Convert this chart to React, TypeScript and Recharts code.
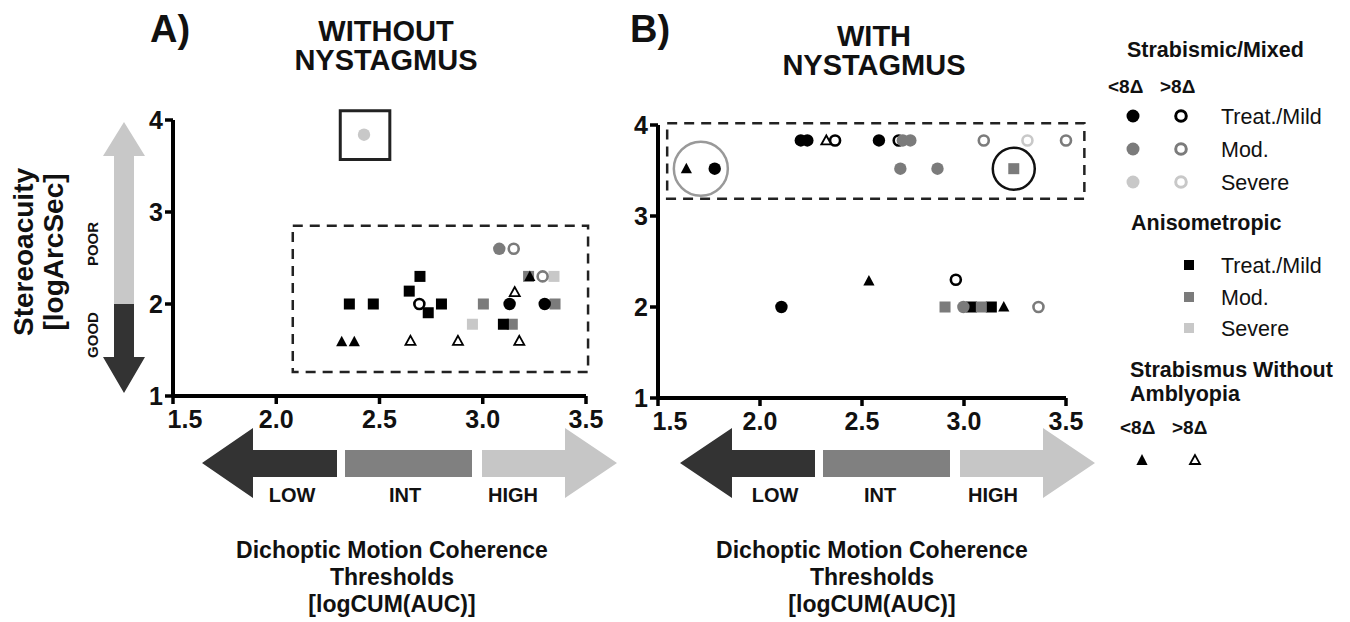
import React from 'react';
import {
  ScatterChart,
  Scatter,
  XAxis,
  YAxis,
  ReferenceArea,
  ReferenceDot,
} from 'recharts';

const FONT = '"Liberation Sans", Arial, Helvetica, sans-serif';
const BLACK = '#000000';
const MID = '#7b7b7b';
const LIGHT = '#c8c8c8';

const X_TICKS = [1.5, 2.0, 2.5, 3.0, 3.5];
const Y_TICKS = [1, 2, 3, 4];

// ---- Panel A: without nystagmus ----
const aStrabSevereLo = [{ x: 2.425, y: 3.84 }];
const aStrabMildLo = [{ x: 3.13, y: 2.0 }, { x: 3.3, y: 2.0 }];
const aStrabMildHi = [{ x: 2.693, y: 2.0 }];
const aStrabModLo = [{ x: 3.08, y: 2.6 }];
const aStrabModHi = [{ x: 3.15, y: 2.6 }, { x: 3.29, y: 2.3 }];
const aAnisoMild = [
  { x: 2.354, y: 2.0 }, { x: 2.47, y: 2.0 }, { x: 2.644, y: 2.14 }, { x: 2.696, y: 2.3 },
  { x: 2.736, y: 1.905 }, { x: 2.8, y: 2.0 }, { x: 3.1, y: 1.78 },
];
const aAnisoMod = [{ x: 3.003, y: 2.0 }, { x: 3.143, y: 1.78 }, { x: 3.222, y: 2.3 }, { x: 3.35, y: 2.0 }];
const aAnisoSevere = [{ x: 2.95, y: 1.78 }, { x: 3.345, y: 2.3 }];
const aNoAmbLo = [{ x: 2.317, y: 1.59 }, { x: 2.378, y: 1.59 }, { x: 3.228, y: 2.3 }];
const aNoAmbHi = [{ x: 2.65, y: 1.6 }, { x: 2.88, y: 1.6 }, { x: 3.155, y: 2.13 }, { x: 3.177, y: 1.6 }];

// ---- Panel B: with nystagmus ----
const bStrabMildLo = [
  { x: 2.2, y: 3.83 }, { x: 2.232, y: 3.83 }, { x: 2.583, y: 3.83 }, { x: 1.778, y: 3.52 }, { x: 2.105, y: 2.0 },
];
const bStrabMildHi = [{ x: 2.368, y: 3.83 }, { x: 2.68, y: 3.83 }, { x: 2.96, y: 2.3 }];
const bStrabModLo = [
  { x: 2.7, y: 3.83 }, { x: 2.737, y: 3.83 }, { x: 2.688, y: 3.52 }, { x: 2.87, y: 3.52 }, { x: 2.997, y: 2.0 },
];
const bStrabModHi = [{ x: 3.097, y: 3.83 }, { x: 3.5, y: 3.83 }, { x: 3.365, y: 2.0 }];
const bStrabSevereHi = [{ x: 3.311, y: 3.83 }];
const bAnisoMild = [{ x: 3.036, y: 2.0 }, { x: 3.134, y: 2.0 }];
const bAnisoMod = [{ x: 3.244, y: 3.52 }, { x: 2.907, y: 2.0 }, { x: 3.085, y: 2.0 }];
const bNoAmbLo = [{ x: 1.639, y: 3.52 }, { x: 2.534, y: 2.285 }, { x: 3.195, y: 2.0 }];
const bNoAmbHi = [{ x: 2.325, y: 3.83 }];

type Kind = 'dot' | 'ring' | 'square' | 'tri' | 'triOpen';
type Pt = { x: number; y: number };
type Series = { name: string; data: Pt[]; kind: Kind; color: string };

const seriesA: Series[] = [
  { name: 'aAnisoSevere', data: aAnisoSevere, kind: 'square', color: LIGHT },
  { name: 'aAnisoMod', data: aAnisoMod, kind: 'square', color: MID },
  { name: 'aAnisoMild', data: aAnisoMild, kind: 'square', color: BLACK },
  { name: 'aStrabSevereLo', data: aStrabSevereLo, kind: 'dot', color: LIGHT },
  { name: 'aStrabModLo', data: aStrabModLo, kind: 'dot', color: MID },
  { name: 'aStrabModHi', data: aStrabModHi, kind: 'ring', color: MID },
  { name: 'aStrabMildLo', data: aStrabMildLo, kind: 'dot', color: BLACK },
  { name: 'aStrabMildHi', data: aStrabMildHi, kind: 'ring', color: BLACK },
  { name: 'aNoAmbLo', data: aNoAmbLo, kind: 'tri', color: BLACK },
  { name: 'aNoAmbHi', data: aNoAmbHi, kind: 'triOpen', color: BLACK },
];

const seriesB: Series[] = [
  { name: 'bAnisoMild', data: bAnisoMild, kind: 'square', color: BLACK },
  { name: 'bAnisoMod', data: bAnisoMod, kind: 'square', color: MID },
  { name: 'bStrabMildHi', data: bStrabMildHi, kind: 'ring', color: BLACK },
  { name: 'bStrabMildLo', data: bStrabMildLo, kind: 'dot', color: BLACK },
  { name: 'bStrabModLo', data: bStrabModLo, kind: 'dot', color: MID },
  { name: 'bStrabModHi', data: bStrabModHi, kind: 'ring', color: MID },
  { name: 'bStrabSevereHi', data: bStrabSevereHi, kind: 'ring', color: LIGHT },
  { name: 'bNoAmbLo', data: bNoAmbLo, kind: 'tri', color: BLACK },
  { name: 'bNoAmbHi', data: bNoAmbHi, kind: 'triOpen', color: BLACK },
];

const Marker = ({ kind, color, cx, cy }: { kind: Kind; color: string; cx: number; cy: number }) => {
  if (cx == null || cy == null) return null;
  switch (kind) {
    case 'dot':
      return <circle cx={cx} cy={cy} r={6.2} fill={color} />;
    case 'ring':
      return <circle cx={cx} cy={cy} r={5} fill="#fff" stroke={color} strokeWidth={2.6} />;
    case 'square':
      return <rect x={cx - 5.5} y={cy - 5.5} width={11} height={11} fill={color} />;
    case 'tri':
      return <polygon points={`${cx},${cy - 6} ${cx - 5.6},${cy + 4.5} ${cx + 5.6},${cy + 4.5}`} fill={color} />;
    case 'triOpen':
      return (
        <polygon
          points={`${cx},${cy - 5} ${cx - 5},${cy + 4} ${cx + 5},${cy + 4}`}
          fill="#fff"
          stroke={color}
          strokeWidth={1.8}
        />
      );
    default:
      return null;
  }
};

const TICK_FONT = 25;

// x tick: the first label (1.5) sits a bit right of its tick, clear of the y "1"
const XTick = (props: any) => {
  const { x, y, payload } = props;
  const shift = payload.value === 1.5 ? 12 : 0;
  return (
    <text x={x + shift} y={y + 4} dy="0.71em" textAnchor="middle" fontSize={TICK_FONT} fontWeight={700} fill="#111" fontFamily={FONT}>
      {Number(payload.value).toFixed(1)}
    </text>
  );
};

const YTick = (props: any) => {
  const { x, y, payload } = props;
  return (
    <text x={x} y={y} dy="0.36em" textAnchor="end" fontSize={TICK_FONT} fontWeight={700} fill="#111" fontFamily={FONT}>
      {payload.value}
    </text>
  );
};

interface PanelProps {
  series: Series[];
  width: number;
  height: number;
  margin: { top: number; right: number; bottom: number; left: number };
  children?: React.ReactNode;
}

const Panel = ({ series, width, height, margin, children }: PanelProps) => (
  <ScatterChart width={width} height={height} margin={margin}>
    <XAxis
      type="number"
      dataKey="x"
      domain={[1.5, 3.5]}
      ticks={X_TICKS}
      axisLine={{ stroke: '#000', strokeWidth: 4 }}
      tickLine={{ stroke: '#000', strokeWidth: 3.5 }}
      tickSize={8}
      tick={<XTick />}
      height={40}
      interval={0}
    />
    <YAxis
      type="number"
      dataKey="y"
      domain={[1, 4]}
      ticks={Y_TICKS}
      axisLine={{ stroke: '#000', strokeWidth: 4 }}
      tickLine={{ stroke: '#000', strokeWidth: 3.5 }}
      tickSize={8}
      tickMargin={2}
      tick={<YTick />}
      width={40}
      interval={0}
    />
    {children}
    {series.map((s) => (
      <Scatter
        key={s.name}
        name={s.name}
        data={s.data}
        isAnimationActive={false}
        shape={(p: any) => <Marker kind={s.kind} color={s.color} cx={p.cx} cy={p.cy} />}
      />
    ))}
  </ScatterChart>
);

const HArrows = ({ tip, headL, shaftL, midL, midR, shaftR, headR, tipR, labels }: any) => {
  const yc = 463;
  return (
    <g>
      <polygon
        points={`${tip},${yc} ${headL},428 ${headL},450 ${shaftL},450 ${shaftL},477 ${headL},477 ${headL},498`}
        fill="#333333"
      />
      <rect x={midL} y={450} width={midR - midL} height={27} fill="#808080" />
      <polygon
        points={`${shaftR},450 ${headR},450 ${headR},428 ${tipR},${yc} ${headR},498 ${headR},477 ${shaftR},477`}
        fill="#c6c6c6"
      />
      {['LOW', 'INT', 'HIGH'].map((t, i) => (
        <text key={t} x={labels[i]} y={502} textAnchor="middle" fontSize={20} fontWeight={700} fill="#111">
          {t}
        </text>
      ))}
    </g>
  );
};

const XTitle = ({ cx }: { cx: number }) => (
  <g fontSize={23} fontWeight={700} fill="#111">
    <text x={cx} y={558} textAnchor="middle">Dichoptic Motion Coherence</text>
    <text x={cx} y={585} textAnchor="middle">Thresholds</text>
    <text x={cx} y={612} textAnchor="middle">[logCUM(AUC)]</text>
  </g>
);

const Legend = () => (
  <g fontFamily={FONT} fill="#111">
    <text x={1127} y={57} fontSize={21.5} fontWeight={700}>Strabismic/Mixed</text>
    <text x={1108} y={93} fontSize={19} fontWeight={700}>&lt;8Δ</text>
    <text x={1160} y={93} fontSize={19} fontWeight={700}>&gt;8Δ</text>
    {[
      { y: 116, c: BLACK, t: 'Treat./Mild' },
      { y: 149, c: MID, t: 'Mod.' },
      { y: 182, c: LIGHT, t: 'Severe' },
    ].map((r) => (
      <g key={r.t}>
        <circle cx={1133} cy={r.y} r={6.5} fill={r.c} />
        <circle cx={1181} cy={r.y} r={5.3} fill="#fff" stroke={r.c} strokeWidth={3} />
        <text x={1221} y={r.y + 7.5} fontSize={21.5}>{r.t}</text>
      </g>
    ))}
    <text x={1131} y={230} fontSize={21.5} fontWeight={700}>Anisometropic</text>
    {[
      { y: 265, c: BLACK, t: 'Treat./Mild' },
      { y: 297, c: MID, t: 'Mod.' },
      { y: 328, c: LIGHT, t: 'Severe' },
    ].map((r) => (
      <g key={r.t + 'a'}>
        <rect x={1184} y={r.y - 5} width={10} height={10} fill={r.c} />
        <text x={1221} y={r.y + 7.5} fontSize={21.5}>{r.t}</text>
      </g>
    ))}
    <text x={1130} y={377} fontSize={21.5} fontWeight={700}>Strabismus Without</text>
    <text x={1130} y={401} fontSize={21.5} fontWeight={700}>Amblyopia</text>
    <text x={1120} y={434} fontSize={19} fontWeight={700}>&lt;8Δ</text>
    <text x={1172} y={434} fontSize={19} fontWeight={700}>&gt;8Δ</text>
    <polygon points="1142,454 1136.4,465 1147.6,465" fill={BLACK} />
    <polygon points="1195,455 1190,464 1200,464" fill="#fff" stroke={BLACK} strokeWidth={1.8} />
  </g>
);

export default function App() {
  return (
    <div
      style={{
        position: 'absolute',
        left: 0,
        top: 0,
        width: 1350,
        height: 622,
        background: '#fff',
        fontFamily: FONT,
        overflow: 'hidden',
      }}
    >
      <div style={{ position: 'absolute', left: 0, top: 0 }}>
        <Panel series={seriesA} width={620} height={440} margin={{ top: 120, right: 34, bottom: 4, left: 133 }}>
          <ReferenceArea
            x1={2.31}
            x2={2.55}
            y1={3.57}
            y2={4.1}
            ifOverflow="visible"
            fill="none"
            stroke="#222"
            strokeWidth={3}
          />
          <ReferenceArea
            x1={2.08}
            x2={3.51}
            y1={1.26}
            y2={2.85}
            ifOverflow="visible"
            fill="none"
            stroke="#222"
            strokeWidth={2.5}
            strokeDasharray="10 7"
          />
        </Panel>
      </div>
      <div style={{ position: 'absolute', left: 520, top: 0 }}>
        <Panel series={seriesB} width={580} height={440} margin={{ top: 125, right: 34, bottom: 2, left: 98 }}>
          <ReferenceArea
            x1={1.545}
            x2={3.59}
            y1={3.19}
            y2={4.02}
            ifOverflow="visible"
            fill="none"
            stroke="#222"
            strokeWidth={2.5}
            strokeDasharray="10 7"
          />
          <ReferenceDot x={1.71} y={3.52} r={27} ifOverflow="visible" fill="none" stroke="#999" strokeWidth={2.5} />
          <ReferenceDot x={3.244} y={3.52} r={21} ifOverflow="visible" fill="none" stroke="#111" strokeWidth={2.5} />
        </Panel>
      </div>
      <svg
        width={1350}
        height={622}
        style={{ position: 'absolute', left: 0, top: 0, pointerEvents: 'none' }}
        fontFamily={FONT}
      >
        {/* panel titles */}
        <text x={150} y={42} fontSize={38} fontWeight={700} fill="#111">A)</text>
        <text x={630} y={42} fontSize={38} fontWeight={700} fill="#111">B)</text>
        <text x={386} y={41} textAnchor="middle" fontSize={29} fontWeight={700} fill="#111">WITHOUT</text>
        <text x={386} y={70} textAnchor="middle" fontSize={29} fontWeight={700} fill="#111">NYSTAGMUS</text>
        <text x={874} y={46} textAnchor="middle" fontSize={29} fontWeight={700} fill="#111">WITH</text>
        <text x={874} y={75} textAnchor="middle" fontSize={29} fontWeight={700} fill="#111">NYSTAGMUS</text>

        {/* y-axis title + good/poor arrow */}
        <text transform="translate(23,252) rotate(-90)" textAnchor="middle" dominantBaseline="central" fontSize={28} fontWeight={700} fill="#111">
          Stereoacuity
        </text>
        <text transform="translate(53,252) rotate(-90)" textAnchor="middle" dominantBaseline="central" fontSize={28} fontWeight={700} fill="#111">
          [logArcSec]
        </text>
        <polygon points="124,122 145,156 134,156 134,304 114,304 114,156 103,156" fill="#c8c8c8" />
        <polygon points="114,304 134,304 134,357 145,357 124,393 103,357 114,357" fill="#333333" />
        <text transform="translate(92,244) rotate(-90)" textAnchor="middle" dominantBaseline="central" fontSize={15} fontWeight={700} fill="#111">
          POOR
        </text>
        <text transform="translate(92,335) rotate(-90)" textAnchor="middle" dominantBaseline="central" fontSize={15} fontWeight={700} fill="#111">
          GOOD
        </text>

        {/* x-axis range arrows */}
        <HArrows tip={202} headL={253} shaftL={337} midL={345} midR={472} shaftR={482} headR={565} tipR={617} labels={[292, 405, 513]} />
        <HArrows tip={680} headL={732} shaftL={815} midL={823} midR={950} shaftR={960} headR={1043} tipR={1095} labels={[775, 880, 993]} />

        <XTitle cx={392} />
        <XTitle cx={872} />

        <Legend />
      </svg>
    </div>
  );
}
